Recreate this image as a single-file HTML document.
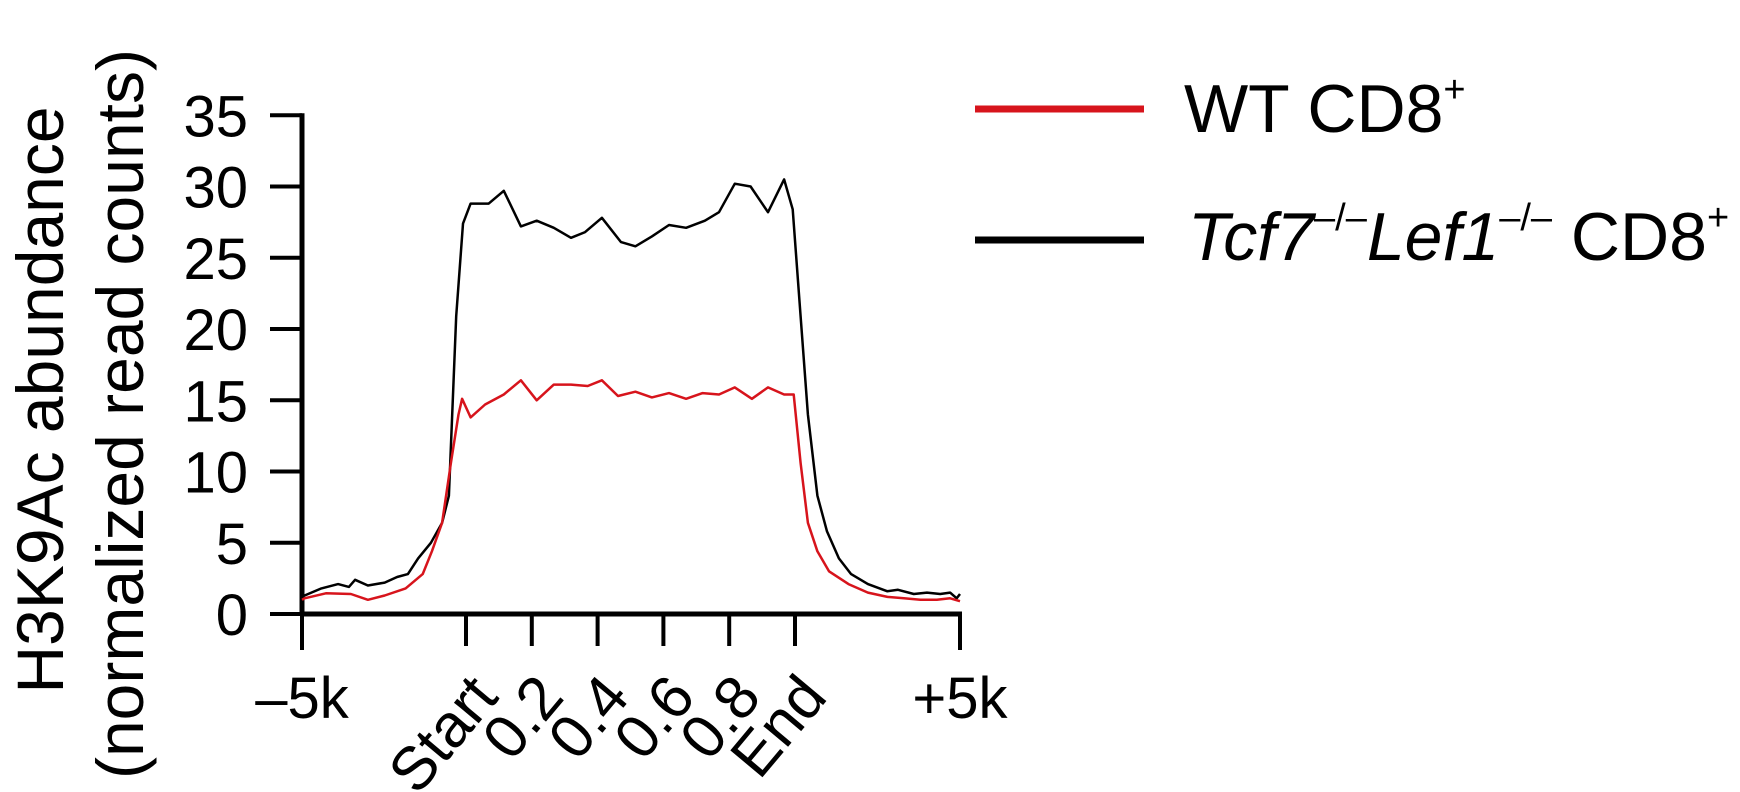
<!DOCTYPE html>
<html><head><meta charset="utf-8"><style>
html,body{margin:0;padding:0;background:#fff;}
svg{display:block;font-family:"Liberation Sans",sans-serif;}
</style></head><body>
<svg id="chart" width="1740" height="792" viewBox="0 0 1740 792" xmlns="http://www.w3.org/2000/svg">
<g font-size="66" fill="#000">
<text transform="translate(63,400) rotate(-90)" text-anchor="middle">H3K9Ac abundance</text>
<text transform="translate(143,414) rotate(-90)" text-anchor="middle">(normalized read counts)</text>
</g>
<g id="axes"></g>
<g id="series"></g>
<g>
<line x1="975" y1="109" x2="1144" y2="109" stroke="#d7141c" stroke-width="7"/>
<text x="1184" y="132" font-size="68">WT CD8<tspan font-size="38" dy="-30">+</tspan></text>
<line x1="975" y1="240" x2="1144" y2="240" stroke="#000" stroke-width="7"/>
<text x="1188" y="260" font-size="68"><tspan font-style="italic">Tcf7</tspan><tspan font-size="38" dy="-30">–/–</tspan><tspan font-style="italic" dy="30">Lef1</tspan><tspan font-size="38" dy="-30">–/–</tspan><tspan dy="30"> CD8</tspan><tspan font-size="38" dy="-30">+</tspan></text>
</g>
</svg>
<script>
const yTicks = [0, 5, 10, 15, 20, 25, 30, 35];
const xTickPos = [-5, 0, 0.2, 0.4, 0.6, 0.8, 1, 6];
const xTickLabels = ["–5k", "Start", "0.2", "0.4", "0.6", "0.8", "End", "+5k"];
const koPos = [-5,-4.92,-4.41,-3.9,-3.57,-3.38,-2.99,-2.48,-2.1,-1.77,-1.46,-1.07,-0.73,-0.52,-0.3,-0.09,0.014,0.069,0.115,0.167,0.215,0.267,0.319,0.362,0.413,0.471,0.515,0.565,0.617,0.669,0.726,0.769,0.817,0.865,0.918,0.967,0.993,1.17,1.39,1.68,1.97,2.33,2.7,3.21,3.79,4.12,4.6,5.0,5.4,5.7,5.9,6.0];
const koVal = [1.2,1.3,1.8,2.1,1.9,2.4,2.0,2.2,2.6,2.8,3.9,5.0,6.4,8.3,20.9,27.4,28.8,28.8,29.7,27.2,27.6,27.1,26.4,26.8,27.8,26.1,25.8,26.5,27.3,27.1,27.6,28.2,30.2,30.0,28.2,30.5,28.4,20.9,14.0,8.3,5.8,3.9,2.8,2.1,1.6,1.7,1.4,1.5,1.4,1.5,1.1,1.4];
const wtPos = [-5,-4.92,-4.27,-3.51,-2.99,-2.48,-1.84,-1.32,-1.04,-0.73,-0.46,-0.23,-0.12,0.014,0.058,0.115,0.167,0.215,0.267,0.319,0.37,0.413,0.462,0.515,0.565,0.617,0.669,0.719,0.769,0.817,0.869,0.918,0.967,0.996,1.17,1.39,1.68,2.03,2.62,3.21,3.8,4.3,4.8,5.3,5.7,6.0];
const wtVal = [1.0,1.1,1.45,1.4,1.0,1.3,1.8,2.8,4.4,6.4,10.6,14.0,15.1,13.8,14.7,15.4,16.4,15.0,16.1,16.1,16.0,16.4,15.3,15.6,15.2,15.5,15.1,15.5,15.4,15.9,15.1,15.9,15.4,15.4,10.6,6.4,4.4,3.0,2.1,1.5,1.2,1.1,1.0,1.0,1.1,0.9];

const NS = "http://www.w3.org/2000/svg";
const X0 = 302, XS = 466, XE = 795, X1 = 960, Y0 = 614, PER = 14.25;
function xScale(p) {
  if (p < 0) return XS + p / 5 * (XS - X0);
  if (p <= 1) return XS + p * (XE - XS);
  return XE + (p - 1) / 5 * (X1 - XE);
}
function yScale(v) { return Y0 - v * PER; }
function mk(tag, attrs, parent) {
  const el = document.createElementNS(NS, tag);
  for (const k in attrs) el.setAttribute(k, attrs[k]);
  parent.appendChild(el);
  return el;
}
const axes = document.getElementById('axes');
const yl = mk('line', {x1: X0, y1: yScale(35) - 2, x2: X0, y2: Y0 + 2, stroke: '#000', 'stroke-width': 5}, axes);


const xl = mk('line', {x1: X0 - 2, y1: Y0, x2: X1 + 2, y2: Y0, stroke: '#000', 'stroke-width': 5}, axes);


yTicks.forEach(v => {
  const t = mk('line', {x1: X0 - 32, y1: yScale(v), x2: X0, y2: yScale(v), stroke: '#000', 'stroke-width': 4}, axes);
  
  
  const lb = mk('text', {x: X0 - 54, y: yScale(v) + 21, 'text-anchor': 'end', 'font-size': 58}, axes);
  lb.textContent = v;
  
  
});
xTickPos.forEach((p, i) => {
  const x = xScale(p);
  const outer = (i === 0 || i === xTickPos.length - 1);
  const t = mk('line', {x1: x, y1: Y0, x2: x, y2: outer ? 650 : 646, stroke: '#000', 'stroke-width': 4}, axes);
  
  
  let lb;
  if (outer) {
    lb = mk('text', {x: x, y: 718, 'text-anchor': 'middle', 'font-size': 58}, axes);
  } else {
    lb = mk('text', {transform: 'translate(' + (x + 34) + ',698) rotate(-50)', 'text-anchor': 'end', 'font-size': 61}, axes);
  }
  lb.textContent = xTickLabels[i];
  
  
});
const series = document.getElementById('series');
function drawLine(pos, val, color, name) {
  const d = pos.map((p, i) => (i ? 'L' : 'M') + xScale(p).toFixed(1) + ',' + yScale(val[i]).toFixed(1)).join(' ');
  const path = mk('path', {d: d, fill: 'none', stroke: color, 'stroke-width': 2.5, 'stroke-linejoin': 'round'}, series);
  
  
}
drawLine(koPos, koVal, '#000', 'line-tcf7-lef1-ko');
drawLine(wtPos, wtVal, '#d7141c', 'line-wt');
</script>
</body></html>
